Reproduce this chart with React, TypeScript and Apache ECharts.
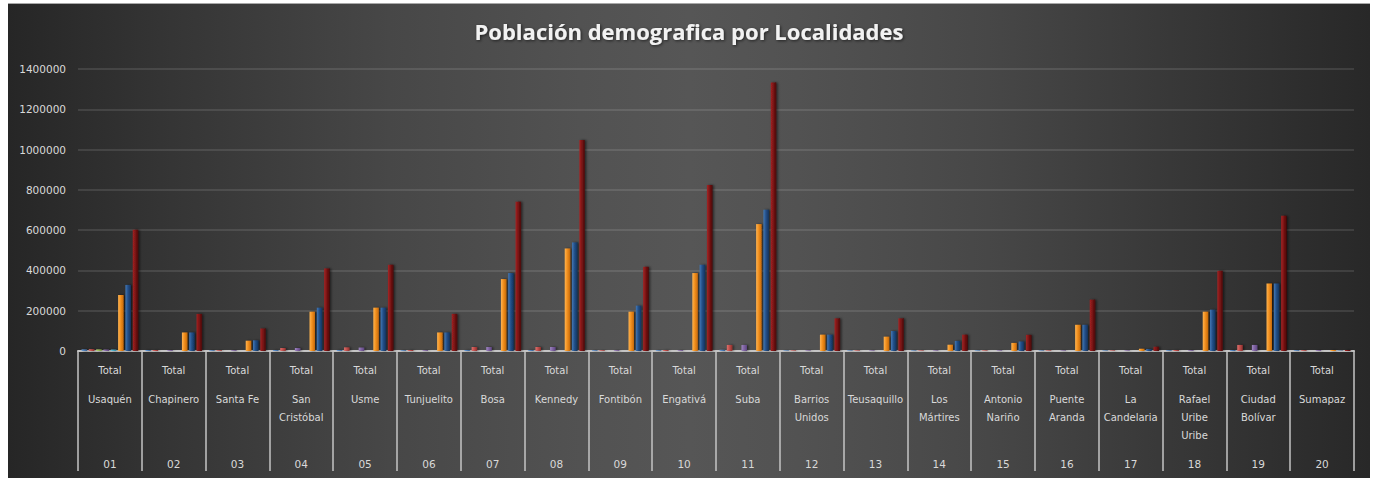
import React, { useEffect, useRef } from "react";
import * as echarts from "echarts";

const codes = ["01", "02", "03", "04", "05", "06", "07", "08", "09", "10", "11", "12", "13", "14", "15", "16", "17", "18", "19", "20"];
const localidades = [
  "Usaquén", "Chapinero", "Santa Fe", "San\nCristóbal", "Usme", "Tunjuelito", "Bosa", "Kennedy", "Fontibón", "Engativá",
  "Suba", "Barrios\nUnidos", "Teusaquillo", "Los\nMártires", "Antonio\nNariño", "Puente\nAranda", "La\nCandelaria",
  "Rafael\nUribe\nUribe", "Ciudad\nBolívar", "Sumapaz",
];
const totalLabels = ["Total", "Total", "Total", "Total", "Total", "Total", "Total", "Total", "Total", "Total",
  "Total", "Total", "Total", "Total", "Total", "Total", "Total", "Total", "Total", "Total"];
const yTicks = { min: 0, max: 1400000, interval: 200000 };

const serie1 = [8000, 5000, 4000, 5000, 5000, 4000, 5000, 5000, 4000, 4000, 6000, 3000, 3000, 3000, 3000, 3000, 3000, 4000, 5000, 4000];
const serie2 = [9000, 5000, 4000, 15000, 18000, 5000, 20000, 20000, 4000, 5000, 30000, 3000, 3000, 3000, 3000, 3000, 3000, 5000, 30000, 4000];
const serie3 = [8000, 0, 0, 0, 0, 0, 0, 0, 0, 0, 0, 0, 0, 0, 0, 0, 0, 0, 0, 0];
const serie4 = [7000, 4000, 4000, 15000, 17000, 4000, 20000, 20000, 4000, 4000, 30000, 3000, 3000, 3000, 3000, 3000, 3000, 4000, 30000, 4000];
const serie5 = [7000, 0, 0, 0, 0, 0, 0, 0, 0, 0, 0, 0, 0, 0, 0, 0, 0, 0, 0, 0];
const serie6 = [278000, 92000, 51000, 195000, 215000, 92000, 357000, 509000, 195000, 387000, 630000, 81000, 71000, 31000, 40000, 130000, 11000, 195000, 335000, 5000];
const serie7 = [328000, 92000, 53000, 215000, 215000, 92000, 387000, 539000, 225000, 428000, 701000, 81000, 99000, 50000, 47000, 130000, 10000, 205000, 335000, 2000];
const serie8 = [602000, 184000, 112000, 410000, 428000, 184000, 741000, 1047000, 418000, 824000, 1333000, 162000, 162000, 81000, 80000, 255000, 21000, 398000, 671000, 5000];

const seriesDefs = [
  { name: "Serie 1", data: serie1, c: ["#74a0d6", "#4f81bd", "#365f92"] },
  { name: "Serie 2", data: serie2, c: ["#e0706c", "#c0504d", "#8e2f2c"] },
  { name: "Serie 3", data: serie3, c: ["#b5d27a", "#9bbb59", "#76953a"] },
  { name: "Serie 4", data: serie4, c: ["#a088c4", "#8064a2", "#5d4480"] },
  { name: "Serie 5", data: serie5, c: ["#72c8de", "#4bacc6", "#2c88a2"] },
  { name: "Serie 6", data: serie6, c: ["#ffb452", "#f2901e", "#c4680a"] },
  { name: "Serie 7", data: serie7, c: ["#4279b8", "#245088", "#12325c"] },
  { name: "Serie 8", data: serie8, c: ["#a52424", "#7c1515", "#4a0808"] },
];

const FONT = "DejaVu Sans";
const LABEL = "#d9d9d9";

export default function App() {
  const ref = useRef<HTMLDivElement>(null);
  useEffect(() => {
    if (!ref.current) return;
    const chart = echarts.init(ref.current, undefined, { renderer: "svg" });
    const option: any = {
      animation: false,
      title: {
        text: "Población demografica por Localidades",
        left: "center",
        top: 11,
        textStyle: {
          color: "#f2f2f2",
          fontFamily: "Open Sans",
          fontWeight: "bold",
          fontSize: 22,
          textShadowColor: "rgba(0,0,0,0.6)",
          textShadowBlur: 3,
          textShadowOffsetX: 1,
          textShadowOffsetY: 1,
        },
      },
      grid: { left: 70, right: 16, top: 65, bottom: 127 },
      xAxis: [
        {
          type: "category",
          data: totalLabels,
          position: "bottom",
          axisLine: { show: true, lineStyle: { color: "#c4c4c4", width: 2 } },
          axisTick: { show: true, length: 120, lineStyle: { color: "#c4c4c4", width: 1.5 } },
          axisLabel: { color: LABEL, fontFamily: FONT, fontSize: 10, lineHeight: 12, margin: 13, interval: 0 },
        },
        {
          type: "category",
          data: localidades,
          position: "bottom",
          axisLine: { show: false },
          axisTick: { show: false },
          axisLabel: { color: LABEL, fontFamily: FONT, fontSize: 10, lineHeight: 18, margin: 39, interval: 0 },
        },
        {
          type: "category",
          data: codes,
          position: "bottom",
          axisLine: { show: false },
          axisTick: { show: false },
          axisLabel: { color: LABEL, fontFamily: FONT, fontSize: 10.5, lineHeight: 12, margin: 107, interval: 0 },
        },
      ],
      yAxis: {
        type: "value",
        min: yTicks.min,
        max: yTicks.max,
        interval: yTicks.interval,
        axisLine: { show: false },
        axisTick: { show: false },
        axisLabel: {
          color: LABEL,
          fontFamily: FONT,
          fontSize: 10.5,
          margin: 12,
          formatter: (v: number) => String(v),
        },
        splitLine: { lineStyle: { color: "rgba(255,255,255,0.14)", width: 1.5 } },
      },
      series: seriesDefs.map((s) => ({
        name: s.name,
        type: "bar",
        data: s.data,
        barWidth: 5.5,
        barGap: "33%",
        itemStyle: {
          color: new echarts.graphic.LinearGradient(0, 0, 1, 0, [
            { offset: 0, color: s.c[0] },
            { offset: 0.45, color: s.c[1] },
            { offset: 1, color: s.c[2] },
          ]),
          shadowColor: "rgba(0,0,0,0.55)",
          shadowBlur: 2,
          shadowOffsetX: 1.5,
          shadowOffsetY: 0,
        },
      })),
    };
    chart.setOption(option);
    return () => chart.dispose();
  }, []);
  return (
    <div
      style={{
        position: "absolute",
        left: 8,
        top: 3,
        width: 1362,
        height: 474,
        borderTop: "1px solid #a8a8a8",
        background:
          "linear-gradient(90deg, #262626 0%, #353535 12%, #474747 28%, #525252 42%, #565656 50%, #525252 58%, #474747 72%, #353535 88%, #282828 100%)",
      }}
    >
      <div ref={ref} style={{ width: 1362, height: 474 }} />
    </div>
  );
}
